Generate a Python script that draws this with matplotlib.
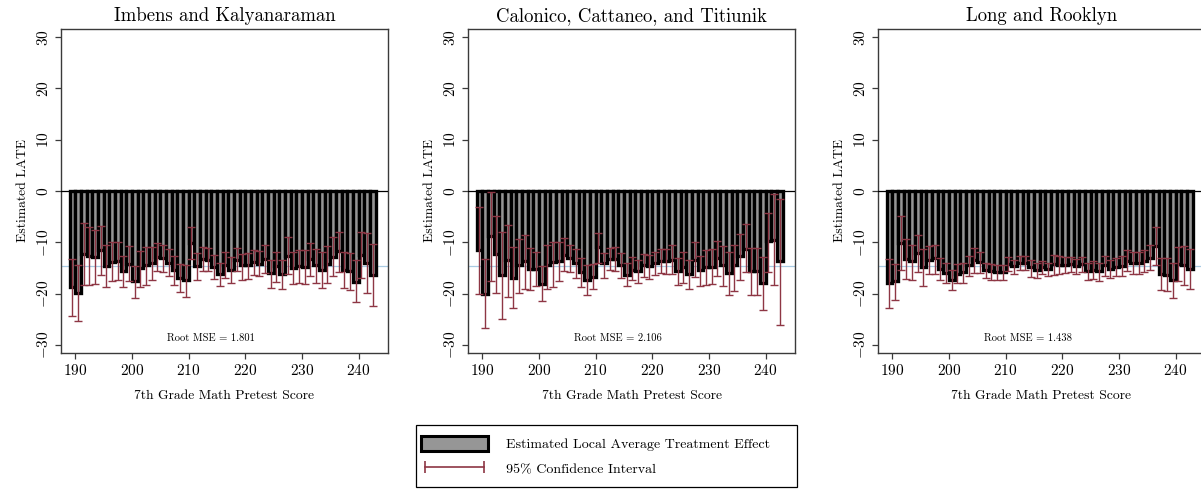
import numpy as np
import matplotlib.pyplot as plt
from matplotlib.patches import Patch, Rectangle
from matplotlib.lines import Line2D

plt.rcParams['font.family'] = 'serif'
plt.rcParams['font.serif'] = ['cmr10']
plt.rcParams['mathtext.fontset'] = 'cm'
plt.rcParams['axes.formatter.use_mathtext'] = True

# pretest scores (one bar per score)
scores = np.arange(189, 243)

titles = ["Imbens and Kalyanaraman",
          "Calonico, Cattaneo, and Titiunik",
          "Long and Rooklyn"]
root_mse = ["1.801", "2.106", "1.438"]
true_late = -14.6

# Imbens and Kalyanaraman
est_ik = [-18.7, -19.9, -12.3, -12.6, -12.9, -11.5, -14.6, -13.9, -13.7, -15.6, -14.3, -17.6, -15.0, -14.5,
          -14.1, -12.8, -13.0, -14.0, -15.4, -17.0, -17.4, -10.2, -14.6, -13.2, -13.4, -14.8, -16.1,
          -14.4, -15.4, -13.4, -14.5, -14.5, -13.9, -14.2, -13.2, -16.0, -14.7, -16.1, -12.6, -15.0, -14.7,
          -14.8, -13.2, -14.5, -15.4, -14.2, -12.8, -11.7, -15.5, -15.6, -17.7, -12.4, -14.0, -16.3]
hi_ik = [-13.2, -14.4, -6.3, -7.1, -7.7, -6.8, -10.6, -10.0, -10.0, -12.6, -10.8, -14.6, -11.8, -11.0,
         -11.0, -10.1, -10.5, -11.4, -12.7, -14.3, -14.5, -7.1, -12.1, -11.0, -11.2, -12.5, -14.0,
         -11.9, -12.9, -11.2, -12.3, -12.1, -11.5, -11.8, -10.6, -13.4, -11.9, -13.4, -9.0, -11.9, -11.6,
         -11.6, -10.1, -11.3, -11.9, -10.8, -9.0, -7.9, -11.9, -12.1, -13.5, -7.9, -8.2, -10.3]
lo_ik = [-24.3, -25.4, -18.3, -18.4, -18.2, -16.3, -18.7, -17.6, -17.4, -18.8, -17.6, -20.8, -18.7, -18.4,
         -17.3, -15.6, -15.8, -16.6, -18.3, -19.7, -20.6, -13.2, -17.4, -15.6, -15.6, -17.2, -18.5,
         -16.9, -17.9, -15.6, -17.3, -17.1, -16.3, -16.6, -15.9, -18.9, -17.7, -19.2, -16.1, -18.2, -17.9,
         -18.1, -16.6, -17.9, -18.9, -17.9, -16.5, -15.8, -18.9, -19.4, -21.7, -17.0, -19.9, -22.5]

# Calonico, Cattaneo, and Titiunik
est_cct = [-11.6, -20.0, -8.7, -12.3, -16.3, -13.5, -16.9, -14.5, -13.7, -15.2, -15.2, -18.1, -14.5, -13.9,
           -13.7, -12.4, -13.0, -14.0, -15.8, -17.4, -16.8, -11.0, -14.1, -13.2, -13.2, -14.5, -16.3,
           -15.4, -15.6, -14.5, -14.7, -14.1, -13.7, -13.7, -13.4, -15.6, -14.8, -16.1, -13.4, -15.4, -14.8,
           -14.8, -13.0, -14.5, -16.0, -14.5, -12.6, -11.3, -15.6, -15.6, -17.9, -9.8, -9.5, -13.7]
hi_cct = [-3.2, -13.2, -0.1, -4.8, -7.9, -6.6, -11.0, -9.4, -8.6, -11.1, -11.9, -14.6, -10.5, -10.0,
          -10.0, -9.2, -10.5, -11.4, -13.0, -14.5, -14.2, -8.1, -12.1, -11.1, -11.0, -12.1, -14.1,
          -12.9, -13.4, -12.3, -12.5, -11.9, -11.4, -11.4, -10.5, -13.0, -11.9, -13.4, -9.9, -12.6, -11.6,
          -11.4, -9.7, -10.8, -11.9, -10.6, -8.3, -6.5, -11.1, -11.1, -12.8, -4.2, -0.6, -1.5]
lo_cct = [-20.1, -26.8, -17.5, -19.9, -25.0, -20.6, -22.9, -19.8, -19.2, -19.4, -18.6, -21.5, -19.1, -18.8,
          -17.5, -15.6, -15.8, -16.9, -18.7, -20.3, -19.2, -14.0, -16.9, -15.5, -15.6, -16.9, -18.6,
          -17.4, -17.9, -16.8, -17.1, -16.3, -16.0, -16.1, -16.1, -18.4, -17.9, -19.2, -16.8, -18.6, -18.3,
          -18.2, -16.6, -18.6, -20.2, -19.5, -17.3, -15.8, -20.2, -20.3, -23.2, -15.8, -18.4, -26.1]

# Long and Rooklyn
est_lr = [-17.9, -17.5, -10.2, -13.2, -13.7, -12.1, -14.8, -13.4, -13.0, -15.2, -16.0, -17.3, -16.1, -15.8,
          -14.5, -13.5, -13.9, -15.4, -15.6, -15.8, -15.8, -14.2, -14.7, -14.1, -14.1, -14.8, -15.5,
          -14.9, -15.3, -14.3, -14.4, -14.5, -14.3, -14.6, -14.3, -15.7, -15.4, -15.7, -14.5, -15.2, -14.8,
          -14.6, -13.6, -14.0, -14.0, -13.6, -13.0, -10.8, -16.2, -16.3, -17.4, -14.3, -14.5, -15.2]
hi_lr = [-13.2, -14.2, -4.8, -9.4, -10.5, -8.6, -11.4, -10.8, -10.5, -13.0, -14.0, -15.4, -14.3, -14.0,
         -12.7, -11.2, -11.9, -14.0, -14.2, -14.4, -14.4, -12.8, -13.4, -12.7, -12.7, -13.4, -14.1,
         -13.7, -14.0, -12.5, -12.7, -12.9, -12.8, -13.2, -12.8, -14.0, -13.7, -14.0, -12.6, -13.4, -13.0,
         -12.7, -11.6, -11.9, -11.9, -11.5, -10.6, -7.1, -13.0, -13.0, -14.1, -11.0, -10.8, -11.3]
lo_lr = [-22.9, -21.2, -15.5, -17.2, -17.3, -15.8, -18.6, -16.1, -16.1, -17.4, -17.9, -19.4, -17.9, -17.9,
         -16.6, -16.0, -16.0, -16.9, -17.3, -17.4, -17.4, -15.6, -16.1, -15.5, -15.5, -16.8, -16.9,
         -16.1, -16.6, -16.3, -16.1, -16.0, -15.8, -16.1, -15.8, -17.4, -17.1, -17.5, -16.5, -16.9, -16.6,
         -16.5, -15.6, -16.1, -16.1, -15.8, -15.5, -14.5, -19.4, -19.5, -20.8, -17.6, -18.3, -19.2]

panels = [(est_ik, lo_ik, hi_ik), (est_cct, lo_cct, hi_cct), (est_lr, lo_lr, hi_lr)]

bar_gray = '#969696'
ci_red = '#8e3644'
spine_col = '#3a3a3a'

W, H = 1201, 491
fig = plt.figure(figsize=(W / 100, H / 100), dpi=100)
lefts = [61, 468, 878]

for i, (est, lo, hi) in enumerate(panels):
    est = np.array(est)
    lo = np.array(lo)
    hi = np.array(hi)
    ax = fig.add_axes([lefts[i] / W, 1 - 353 / H, 327 / W, 324 / H])

    ax.axhline(true_late, color='#a9cbe3', lw=0.9, zorder=0)
    ax.bar(scores, est, width=1.0, align='edge', color=bar_gray,
           edgecolor='black', linewidth=2.4, zorder=2)
    ax.axhline(0, color='black', lw=0.9, zorder=3)
    ax.errorbar(scores + 0.5, est, yerr=[est - lo, hi - est], fmt='none',
                ecolor=ci_red, elinewidth=1.0, capsize=3.2, capthick=1.0, zorder=4)

    ax.set_xlim(187.5, 245.2)
    ax.set_ylim(-31.6, 31.6)
    ax.set_xticks(range(190, 241, 10))
    ax.set_yticks(range(-30, 31, 10))
    for lab in ax.get_yticklabels():
        lab.set_rotation(90)
        lab.set_va('center')
    ax.tick_params(labelsize=11, color=spine_col, length=4, width=0.9)
    for s in ax.spines.values():
        s.set_color(spine_col)
        s.set_linewidth(1.0)

    ax.set_title(titles[i], fontsize=13.5, pad=6)
    ax.set_xlabel("7th Grade Math Pretest Score", fontsize=9.8, labelpad=8)
    ax.set_ylabel("Estimated LATE", fontsize=9.8, labelpad=5)
    ax.text(214, -28.8, "Root MSE = " + root_mse[i], fontsize=7.6, ha='center', va='center')

# legend: box drawn separately so the right margin can stay wide
fig.patches.append(Rectangle((416 / W, 1 - 487 / H), 381 / W, 62 / H, transform=fig.transFigure,
                             facecolor='white', edgecolor='black', linewidth=0.9))
handles = [Patch(facecolor=bar_gray, edgecolor='black', linewidth=2.2),
           Line2D([], [], color=ci_red, lw=1.2, marker='|', markersize=8, markeredgewidth=1.2)]
labels = ["Estimated Local Average Treatment Effect", "95% Confidence Interval"]
fig.legend(handles, labels, loc='center left', bbox_to_anchor=(421 / W, 1 - 456 / H),
           numpoints=2, handlelength=4.8, handleheight=1.3, fontsize=10.1,
           frameon=False, borderpad=0, borderaxespad=0,
           labelspacing=0.65, handletextpad=1.25)

fig.savefig('out.png', dpi=100)
